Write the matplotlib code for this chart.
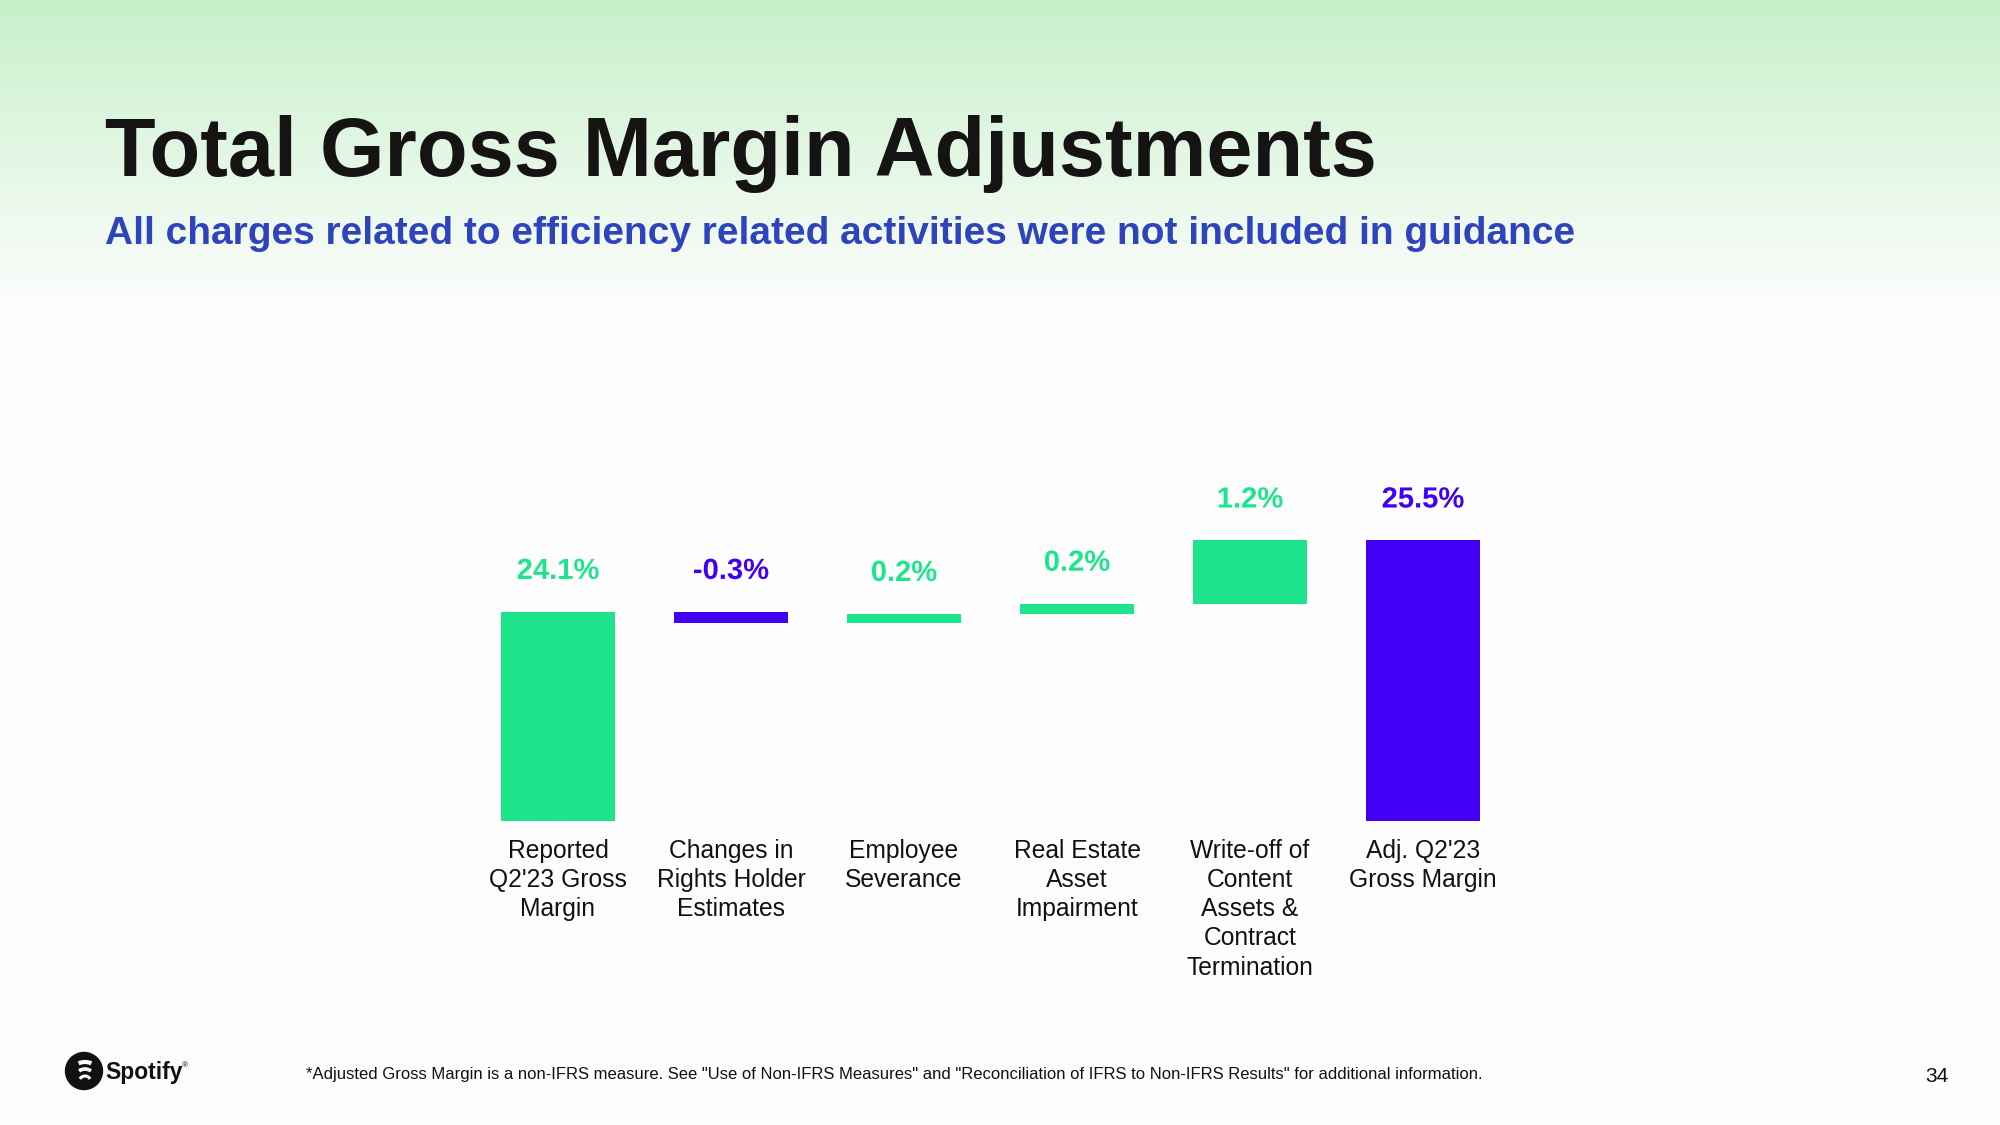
import numpy as np
import matplotlib
matplotlib.use("Agg")
import matplotlib.pyplot as plt
from matplotlib import patches
from matplotlib import patheffects as pe

# Data
categories = ["Reported\nQ2'23 Gross\nMargin", "Changes in\nRights Holder\nEstimates",
              "Employee\nSeverance", "Real Estate\nAsset\nImpairment",
              "Write-off of\nContent\nAssets &\nContract\nTermination",
              "Adj. Q2'23\nGross Margin"]
reported = 24.1
deltas = [-0.22, 0.18, 0.2, 1.24]  # bar heights
adjusted = 25.5
value_labels = ["24.1%", "-0.3%", "0.2%", "0.2%", "1.2%", "25.5%"]

GREEN = "#1ee58c"
PURPLE = "#4100f5"
FONT = "Liberation Sans"

W, H = 2000, 1125
fig = plt.figure(figsize=(W / 100, H / 100), dpi=100)

# background with green gradient at the top
bg = fig.add_axes([0, 0, 1, 1], zorder=-1)
bg.set_xlim(0, W)
bg.set_ylim(H, 0)
bg.axis("off")
top = np.array([197, 240, 200]) / 255
white = np.array([253, 253, 253]) / 255
yy = np.linspace(0, 1, 400)
t = np.clip(yy * H / 310, 0, 1) ** 0.9
grad = top[None, :] * (1 - t[:, None]) + white[None, :] * t[:, None]
bg.imshow(grad[:, None, :], extent=[0, W, H, 0], aspect="auto")

# titles
fig.text(105 / W, 1 - 176 / H, "Total Gross Margin Adjustments", fontsize=59.8,
         fontweight="bold", family=FONT, color="#161412", va="baseline")
fig.text(105 / W, 1 - 244 / H, "All charges related to efficiency related activities were not included in guidance",
         fontsize=28, fontweight="bold", family=FONT, color="#2e44bd", va="baseline")

# waterfall
ax = fig.add_axes([471.5 / W, (H - 821) / H, 1038 / W, 357 / H])
ax.set_xlim(-0.5, 5.5)
ax.set_ylim(20, 27)

x = np.arange(len(categories))
bottoms = [0]
heights = [reported]
colors = [GREEN]
level = reported
for d in deltas:
    bottoms.append(level if d > 0 else level + d)
    heights.append(abs(d))
    colors.append(GREEN if d > 0 else PURPLE)
    level += d
bottoms.append(0)
heights.append(adjusted)
colors.append(PURPLE)

ax.bar(x, heights, bottom=bottoms, width=0.66, color=colors)

for i in range(len(x)):
    ytop = bottoms[i] + heights[i]
    ax.annotate(value_labels[i], (x[i], ytop), xytext=(0, 29.5), textcoords="offset points",
                ha="center", va="center", fontsize=21, fontweight="bold", family=FONT,
                color=colors[i],
                path_effects=[pe.withStroke(linewidth=3, foreground="white")])

ax.set_xticks(x)
ax.set_xticklabels(categories, fontsize=17.7, family=FONT, color="#111111", linespacing=1.27)
ax.tick_params(axis="x", length=0, pad=13)
ax.set_yticks([])
for s in ax.spines.values():
    s.set_visible(False)
ax.patch.set_visible(False)

# footer: logo
bg.add_patch(patches.Circle((84, 1071), 18.5, color="#111111"))
for ytop_arc, w_arc, lw in [(1062, 24, 3.0), (1069, 19, 2.6), (1076, 14, 2.2)]:
    bg.add_patch(patches.Arc((85, ytop_arc + 9), w_arc, 18, theta1=230, theta2=310,
                             color="white", lw=lw))
bg.text(105, 1072, "Spotify", fontsize=16.5, fontweight="bold", family=FONT,
        color="#111111", va="center", ha="left")
bg.text(182, 1066, "®", fontsize=6, family=FONT, color="#111111", va="center")

fig.text(306 / W, 1 - 1074 / H,
         '*Adjusted Gross Margin is a non-IFRS measure. See "Use of Non-IFRS Measures" and '
         '"Reconciliation of IFRS to Non-IFRS Results" for additional information.',
         fontsize=12, family=FONT, color="#111111", va="center", ha="left")
fig.text(1937 / W, 1 - 1077 / H, "34", fontsize=15, family=FONT, color="#111111",
         va="center", ha="center")

fig.savefig("out.png", dpi=100)
